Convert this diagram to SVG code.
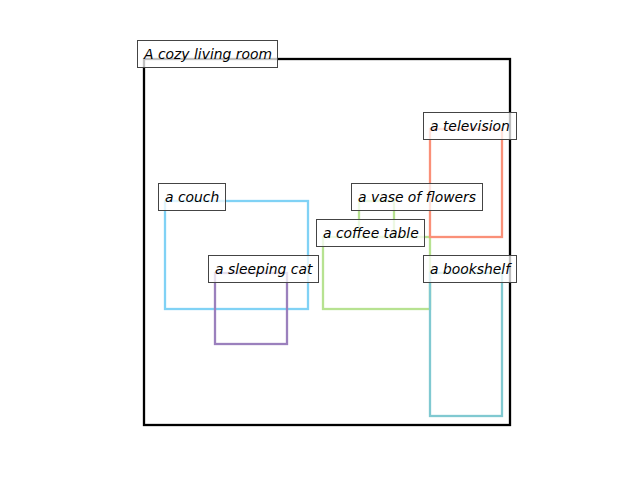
<svg xmlns="http://www.w3.org/2000/svg" width="640" height="480" viewBox="0 0 640 480">
<style>
.bx{fill:none;stroke-width:2.3}
.lb{fill:#ffffff;fill-opacity:0.75;stroke:#444444;stroke-width:1}
.tx{font-family:"DejaVu Sans",sans-serif;font-style:oblique;font-size:13.9px;fill:#000000}
</style>
<rect width="640" height="480" fill="#ffffff"/>
<g id="connectors"></g>
<g id="room"><rect class="bx" x="144" y="59" width="366" height="366" stroke="#000000"/></g>
<g id="couch"><rect class="bx" x="165" y="201" width="143" height="108" stroke="#80d2f5"/></g>
<g id="cat"><rect class="bx" x="215" y="273" width="72" height="71" stroke="#9b80bd"/></g>
<g id="table"><rect class="bx" x="323" y="237" width="107" height="72" stroke="#b7e291"/></g>
<g id="vase"><rect class="bx" x="359" y="201" width="35" height="36" stroke="#b7e291"/></g>
<g id="tv"><rect class="bx" x="430" y="129" width="72" height="108" stroke="#fa9078"/></g>
<g id="shelf"><rect class="bx" x="430" y="273" width="72" height="143" stroke="#80c9d1"/></g>
<g id="labels">
<rect class="lb" x="137.5" y="40.5" width="140" height="27"/><text class="tx" x="144" y="59">A cozy living room</text>
<rect class="lb" x="158.5" y="183.5" width="67" height="27"/><text class="tx" x="165" y="202">a couch</text>
<rect class="lb" x="208.5" y="255.5" width="110" height="27"/><text class="tx" x="215" y="274">a sleeping cat</text>
<rect class="lb" x="316.5" y="219.5" width="108" height="27"/><text class="tx" x="323" y="238">a coffee table</text>
<rect class="lb" x="351.5" y="183.5" width="131" height="27"/><text class="tx" x="358" y="202">a vase of flowers</text>
<rect class="lb" x="423.5" y="112.5" width="93" height="27"/><text class="tx" x="430" y="131">a television</text>
<rect class="lb" x="423.5" y="255.5" width="93" height="27"/><text class="tx" x="430" y="274">a bookshelf</text>
</g>
</svg>
